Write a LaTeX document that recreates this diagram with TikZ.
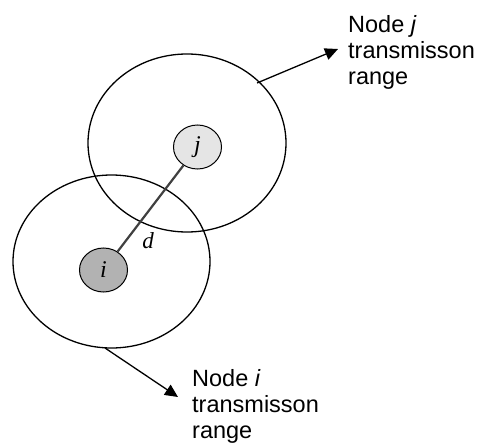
\documentclass[tikz,border=0pt]{standalone}
\usepackage{fontspec}
\setmainfont{Liberation Sans}
\newfontfamily\serifit{Liberation Serif}
\usetikzlibrary{arrows.meta,shapes.geometric}
\begin{document}
\begin{tikzpicture}[x=1pt,y=-1pt,
  coverage/.style={draw=black,line width=1.3pt},
  station/.style={draw=black,line width=1pt,ellipse,minimum width=48pt,minimum height=44pt,inner sep=0pt,font=\serifit\itshape\fontsize{24}{24}\selectfont},
  pointer/.style={draw=black,line width=1.3pt,-{Triangle[length=13pt,width=12pt]}},
  caption/.style={align=left,anchor=north west,inner sep=0pt,font=\fontsize{23.5}{26}\selectfont}]
\useasboundingbox (0,0) rectangle (482,444);
% transmission ranges
\draw[coverage] (187,143) ellipse [x radius=99, y radius=89];
\draw[coverage] (111.5,261.5) ellipse [x radius=98.5, y radius=86.5];
% the two stations and their distance
\node[station,fill=black!10] (j) at (197.5,147) {j};
\node[station,fill=black!30] (i) at (103.5,270) {i};
\draw[line width=2.2pt,black!75] (j) -- (i);
\node[font=\serifit\itshape\fontsize{23}{23}\selectfont] (dl) at (148,241) {d};
% captions
\node[caption] (cj) at (348,15) {Node \textit{j}\\transmisson\\range};
\node[caption] (ci) at (192,369.5) {Node \textit{i}\\transmisson\\range};
\coordinate (sj) at (257,83);
\coordinate (si) at (105,348);
\draw[pointer] (sj) -- (338,49);
\draw[pointer] (si) -- (178,397);
\end{tikzpicture}
\end{document}
